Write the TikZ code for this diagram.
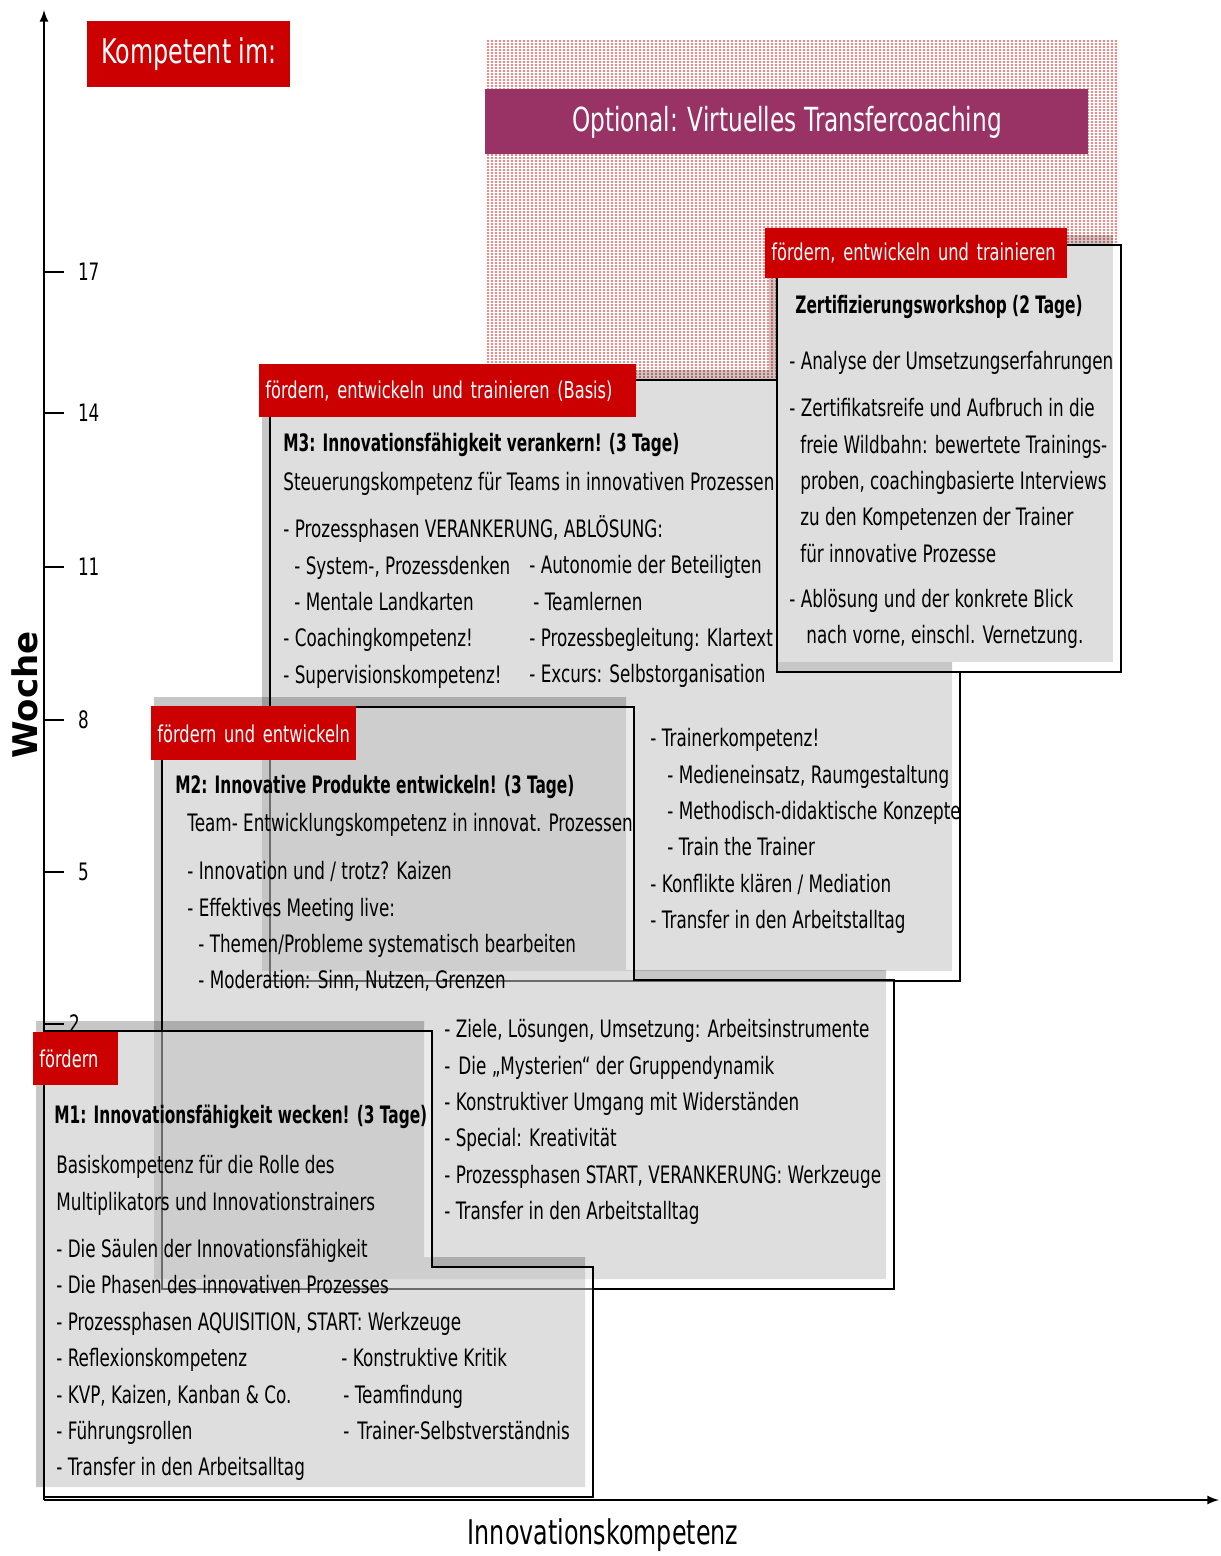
\documentclass[tikz,border=0pt]{standalone}
\usepackage{fontspec}
\setmainfont{DejaVu Sans}[FakeStretch=0.7]
\newfontfamily\titelfont{DejaVu Sans}[FakeStretch=0.64]
\newfontfamily\wochefont{DejaVu Sans}
\usetikzlibrary{patterns}
\definecolor{rot}{HTML}{CC0000}
\definecolor{lila}{HTML}{993366}
\pgfdeclarepatternformonly{punkte}{\pgfqpoint{-.5pt}{-.5pt}}{\pgfqpoint{.5pt}{.5pt}}{\pgfqpoint{2pt}{1.5pt}}{%
	\pgfpathcircle{\pgfqpoint{0pt}{0pt}}{0.45pt}\pgfusepath{fill}}
\begin{document}
\begin{tikzpicture}[x=0.5pt, y=-0.5pt, >=latex,
	txt/.style={anchor=north west, inner sep=0pt, align=left, font=\fontsize{12}{18.2}\selectfont},
	ttl/.style={txt, font=\titelfont\bfseries\fontsize{12}{18.2}\selectfont},
	redlab/.style={anchor=north west, fill=rot, text=white, inner xsep=3pt, inner ysep=0pt, align=left, font=\fontsize{11.6}{14}\selectfont},
	schatten/.style={fill=black, fill opacity=0.22},
	rahmen/.style={draw=black, line width=1pt, fill=white, fill opacity=0.42}]
		\useasboundingbox (0,0) rectangle (1220,1556);
		% optionales Coaching
		\fill[pattern=punkte, pattern color=red] (485,39) -- (1119,39) -- (1119,245) -- (777,245) -- (777,380) -- (485,380) -- cycle;
		\node[fill=lila, text=white, anchor=north west, minimum width=301.5pt, minimum height=32.5pt, font=\fontsize{16.6}{20}\selectfont] (optional) at (485,89) {Optional: Virtuelles Transfercoaching};
		% Zertifizierung
		\fill[schatten] (769,235) rectangle (1113,662);
		\filldraw[rahmen] (777,245) rectangle (1121,672);
		\node[ttl] (zt) at (795,295) {Zertifizierungsworkshop (2 Tage)};
		\node[txt] (zb) at (789,351) {- Analyse der Umsetzungserfahrungen\\[5.3pt]
			- Zertifikatsreife und Aufbruch in die\\
			\hspace*{5.5pt}freie Wildbahn: bewertete Trainings-\\
			\hspace*{5.5pt}proben, coachingbasierte Interviews\\
			\hspace*{5.5pt}zu den Kompetenzen der Trainer\\
			\hspace*{5.5pt}für innovative Prozesse\\[4.3pt]
			- Ablösung und der konkrete Blick\\
			\hspace*{8.5pt}nach vorne, einschl. Vernetzung.};
		% M3
		\fill[schatten] (262,370) -- (769,370) -- (769,662) -- (952,662) -- (952,971) -- (262,971) -- cycle;
		\filldraw[rahmen] (270,380) -- (777,380) -- (777,672) -- (960,672) -- (960,981) -- (270,981) -- cycle;
		\node[ttl] (m3t) at (283,433) {M3: Innovationsfähigkeit verankern! (3 Tage)};
		\node[txt] (m3a) at (283,472) {Steuerungskompetenz für Teams in innovativen Prozessen\\[5.3pt]
			- Prozessphasen VERANKERUNG, ABLÖSUNG:\\
			\hspace*{5.5pt}- System-, Prozessdenken\\
			\hspace*{5.5pt}- Mentale Landkarten\\
			- Coachingkompetenz!\\
			- Supervisionskompetenz!};
		\node[txt] (m3b) at (529,555) {- Autonomie der Beteiligten\\
			\hspace*{2pt}- Teamlernen\\
			- Prozessbegleitung: Klartext\\
			- Excurs: Selbstorganisation};
		\node[txt] (m3c) at (650,728) {- Trainerkompetenz!\\
			\hspace*{8.5pt}- Medieneinsatz, Raumgestaltung\\
			\hspace*{8.5pt}- Methodisch-didaktische Konzepte\\
			\hspace*{8.5pt}- Train the Trainer\\
			- Konflikte klären / Mediation\\
			- Transfer in den Arbeitstalltag};
		% M2
		\fill[schatten] (154,697) -- (626,697) -- (626,970) -- (886,970) -- (886,1279) -- (154,1279) -- cycle;
		\filldraw[rahmen] (162,707) -- (634,707) -- (634,980) -- (894,980) -- (894,1289) -- (162,1289) -- cycle;
		\node[ttl] (m2t) at (175,775) {M2: Innovative Produkte entwickeln! (3 Tage)};
		\node[txt] (m2a) at (187,813) {Team- Entwicklungskompetenz in innovat. Prozessen\\[5.8pt]
			- Innovation und / trotz? Kaizen\\
			- Effektives Meeting live:\\
			\hspace*{5.5pt}- Themen/Probleme systematisch bearbeiten\\
			\hspace*{5.5pt}- Moderation: Sinn, Nutzen, Grenzen};
		\node[txt] (m2b) at (444,1019) {- Ziele, Lösungen, Umsetzung: Arbeitsinstrumente\\
			-\hspace*{4pt}Die „Mysterien“ der Gruppendynamik\\
			- Konstruktiver Umgang mit Widerständen\\
			- Special: Kreativität\\
			- Prozessphasen START, VERANKERUNG: Werkzeuge\\
			- Transfer in den Arbeitstalltag};
		% M1
		\fill[schatten] (36,1021) -- (424,1021) -- (424,1257) -- (585,1257) -- (585,1487) -- (36,1487) -- cycle;
		\filldraw[rahmen] (44,1031) -- (432,1031) -- (432,1267) -- (593,1267) -- (593,1497) -- (44,1497) -- cycle;
		\node[ttl] (m1t) at (54,1105) {M1: Innovationsfähigkeit wecken! (3 Tage)};
		\node[txt] (m1a) at (56,1155) {Basiskompetenz für die Rolle des\\
			Multiplikators und Innovationstrainers\\[5.5pt]
			- Die Säulen der Innovationsfähigkeit\\
			- Die Phasen des innovativen Prozesses\\
			- Prozessphasen AQUISITION, START: Werkzeuge\\
			- Reflexionskompetenz\\
			- KVP, Kaizen, Kanban \& Co.\\
			- Führungsrollen\\
			- Transfer in den Arbeitsalltag};
		\node[txt] (m1b) at (341,1348) {- Konstruktive Kritik\\
			\hspace*{1pt}- Teamfindung\\
			\hspace*{1pt}-\hspace*{4pt}Trainer-Selbstverständnis};
		% Achsen
		\coordinate (O) at (44,1500);
		\coordinate (ytop) at (44,10);
		\coordinate (xend) at (1219,1500);
		\draw[->, line width=1pt] (O) -- (ytop);
		\draw[->, line width=1pt] (O) -- (xend);
		\foreach \y/\w in {272/17,413/14,567/11,720/8,872/5}{
			\draw[line width=1pt] (44,\y) -- (64,\y) node[right, inner sep=0pt, xshift=6.5pt, font=\fontsize{12}{14}\selectfont] (w\w) {\w};
		}
		\draw[line width=1pt] (44,1024) -- (64,1024) node[right, inner sep=0pt, xshift=2pt, font=\fontsize{12}{14}\selectfont] (w2) {2};
		\node[rotate=90, font=\wochefont\bfseries\fontsize{17}{20}\selectfont] (woche) at (25,695) {Woche};
		\node[font=\fontsize{17}{20}\selectfont] (ik) at (603,1535) {Innovationskompetenz};
		% Beschriftungen
		\node[fill=rot, text=white, anchor=north west, minimum width=101.5pt, minimum height=33pt, font=\fontsize{17}{20}\selectfont] (kompetent) at (87,21) {Kompetent im:};
		\node[redlab, text width=145pt, minimum height=25pt] (labz) at (765,228) {\mbox{fördern, entwickeln und trainieren}};
		\node[redlab, text width=182.5pt, minimum height=26.5pt] (lab3) at (259,364) {\mbox{fördern, entwickeln und trainieren (Basis)}};
		\node[redlab, text width=96.5pt, minimum height=27pt] (lab2) at (151,706) {\mbox{fördern und entwickeln}};
		\node[redlab, text width=36.5pt, minimum height=26.5pt] (lab1) at (33,1032) {\mbox{fördern}};
\end{tikzpicture}
\end{document}
